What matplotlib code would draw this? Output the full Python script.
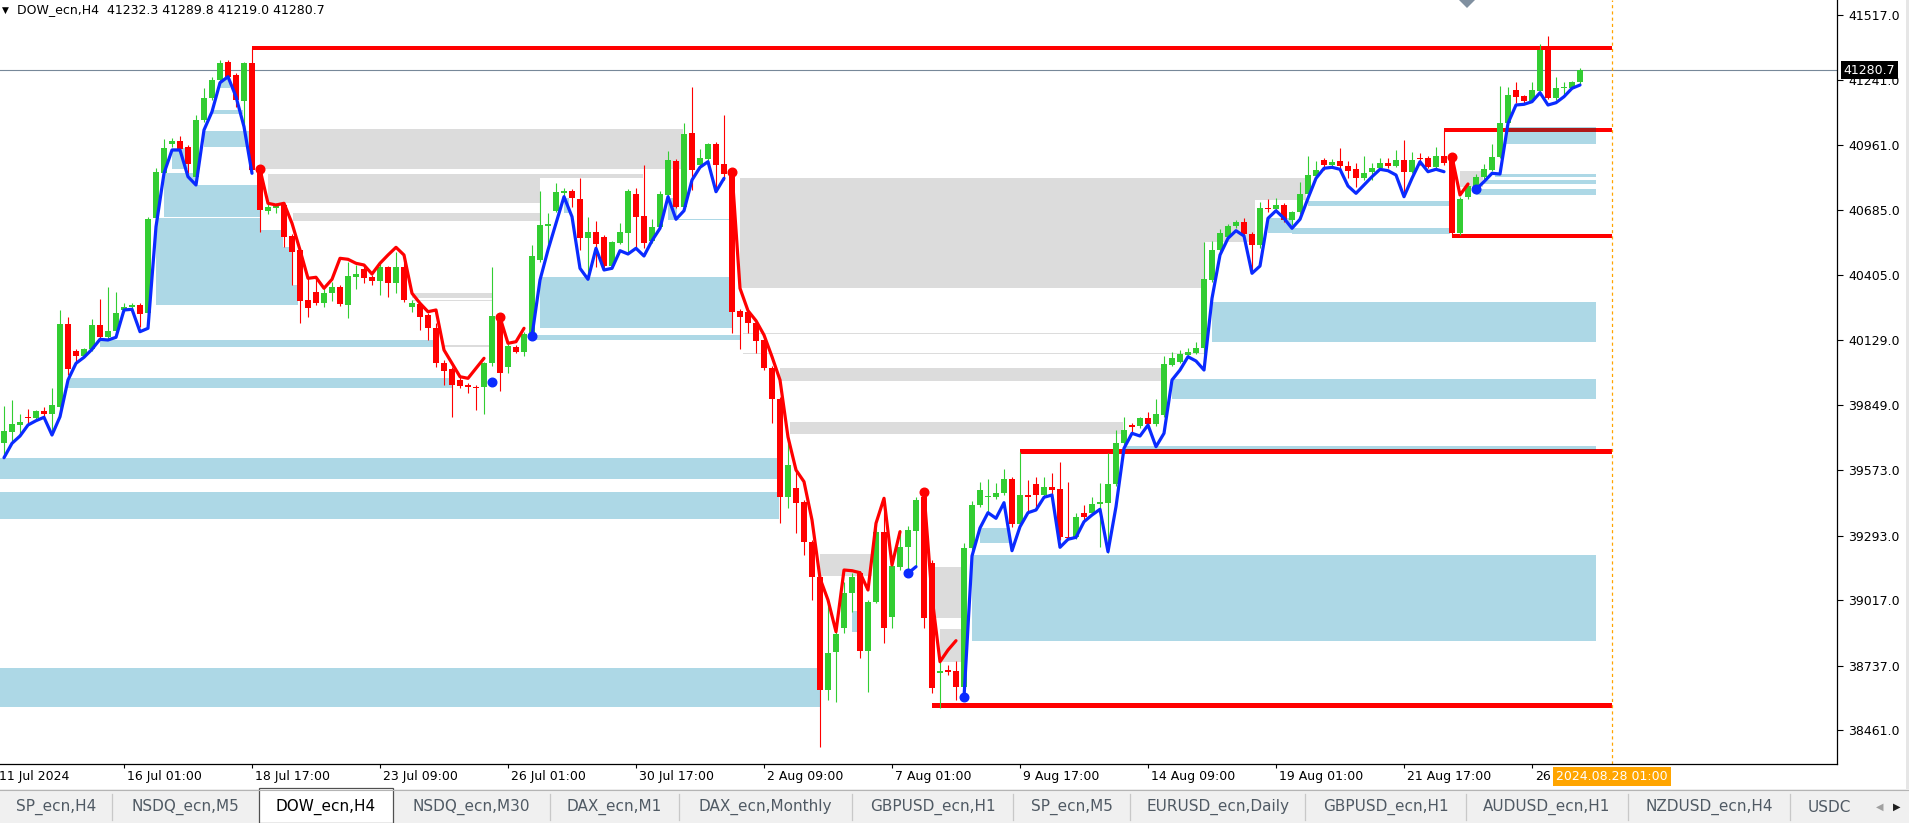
import matplotlib
matplotlib.use('Agg')
import matplotlib.pyplot as plt
from matplotlib.patches import Rectangle, Polygon
import matplotlib.transforms as mtransforms
import numpy as np

# ---------------- DATA (DOW_ecn, H4) ----------------
open_ = [
39689.7, 39736.7, 39766.6, 39799.5, 39796.5, 39825.1, 39813.6, 39843.5, 40196.8, 40081.5,
40061.4, 40088.8, 40192.6, 40142.6, 40168.2, 40256.7, 40268.2, 40278.0, 40242.6, 40649.7,
40843.3, 40964.6, 40978.7, 40953.1, 40826.2, 41068.4, 41161.1, 41239.3, 41316.2, 41260.7,
41150.9, 41313.2, 40854.8, 40680.9, 40691.2, 40705.3, 40572.8, 40513.0, 40299.4, 40333.6,
40287.9, 40328.0, 40353.6, 40278.0, 40398.9, 40430.5, 40398.9, 40381.8, 40439.1, 40373.3,
40441.7, 40268.2, 40282.3, 40235.3, 40178.5, 40031.5, 40003.3, 39957.6, 39936.2, 39927.7,
39929.0, 40028.9, 40231.0, 40011.9, 40099.9, 40078.5, 40149.8, 40470.3, 40616.8, 40680.9,
40757.8, 40765.1, 40730.9, 40565.5, 40588.6, 40567.3, 40445.9, 40544.2, 40586.9, 40752.3,
40658.3, 40551.5, 40612.5, 40748.0, 40893.2, 40698.0, 41014.2, 40876.2, 40900.5, 40965.9,
40880.4, 40847.5, 40252.4, 40249.4, 40201.1, 40126.4, 40007.6, 39875.1, 39459.0, 39494.9,
39437.6, 39264.2, 39117.2, 38633.1, 38794.2, 38896.8, 39046.3, 39134.3, 38801.0, 39010.4,
39306.9, 38943.8, 39159.9, 39245.4, 39313.7, 39459.0, 39174.5, 38704.5, 38718.6, 38715.6,
38647.2, 39238.5, 39423.5, 39456.4, 39456.4, 39473.5, 39534.6, 39342.4, 39466.3, 39513.3,
39466.3, 39501.7, 39490.6, 39285.5, 39285.5, 39388.1, 39388.1, 39427.8, 39433.4, 39513.3,
39687.2, 39765.3, 39761.1, 39793.9, 39769.6, 39808.1, 40021.7, 40034.5, 40065.7, 40074.2,
40093.0, 40384.8, 40513.0, 40567.3, 40615.5, 40631.4, 40581.4, 40534.4, 40691.2, 40688.2,
40705.3, 40641.2, 40674.1, 40752.3, 40830.4, 40897.5, 40876.2, 40893.2, 40871.9, 40857.8,
40819.3, 40847.5, 40862.1, 40883.4, 40873.2, 40897.5, 40847.5, 40907.3, 40904.8, 40868.9,
40914.6, 40911.6, 40584.4, 40738.2, 40786.4, 40823.6, 40854.8, 40911.6, 41054.3, 41196.6,
41170.9, 41150.9, 41193.6, 41367.5, 41161.1, 41203.8, 41203.8, 41232.3]

high_ = [
39846.5, 39872.1, 39812.3, 39833.7, 39829.4, 39842.2, 39923.4, 40256.7, 40226.7, 40090.0,
40095.6, 40218.2, 40302.4, 40353.6, 40332.3, 40287.9, 40287.9, 40286.6, 40654.0, 40863.3,
40987.2, 40992.8, 41000.1, 40961.6, 41089.8, 41203.8, 41252.1, 41324.8, 41324.8, 41270.5,
41316.2, 41376.0, 40863.3, 40713.8, 40713.8, 40713.8, 40581.4, 40521.5, 40393.4, 40393.4,
40356.2, 40375.0, 40363.5, 40463.0, 40448.9, 40448.9, 40406.2, 40456.2, 40444.6, 40505.7,
40470.3, 40299.4, 40286.6, 40243.8, 40199.8, 40043.0, 40013.1, 39971.7, 39944.8, 39936.2,
40035.8, 40439.1, 40239.6, 40111.4, 40107.1, 40162.7, 40534.4, 40766.4, 40669.8, 40798.0,
40777.9, 40773.6, 40819.3, 40655.3, 40636.9, 40577.1, 40551.5, 40627.1, 40772.3, 40776.6,
40876.2, 40644.2, 40765.1, 40936.0, 40901.8, 41056.9, 41208.1, 40944.5, 40971.4, 40974.4,
41089.8, 40854.8, 40260.9, 40256.7, 40209.7, 40132.8, 40017.4, 39885.0, 39701.2, 39587.2,
39444.9, 39274.0, 39124.5, 39000.6, 38898.0, 39095.8, 39131.7, 39141.6, 39017.7, 39342.4,
39459.0, 39180.0, 39316.7, 39333.8, 39456.4, 39477.8, 39188.6, 38752.8, 38740.0, 38757.0,
39259.9, 39440.6, 39523.1, 39533.3, 39516.3, 39576.1, 39543.2, 39651.3, 39530.3, 39541.9,
39544.5, 39559.0, 39606.0, 39523.1, 39388.1, 39423.5, 39459.0, 39518.8, 39644.4, 39744.0,
39798.2, 39775.2, 39798.2, 39822.2, 39876.4, 40060.1, 40078.5, 40085.8, 40095.6, 40121.2,
40548.5, 40552.7, 40602.7, 40624.1, 40641.2, 40648.4, 40589.9, 40719.4, 40729.6, 40733.9,
40715.1, 40679.6, 40804.8, 40914.6, 40894.5, 40906.1, 40900.5, 40948.8, 40893.2, 40886.0,
40914.6, 40883.4, 40904.8, 40904.8, 40940.2, 40983.0, 40933.0, 40928.7, 40914.6, 40954.3,
41025.7, 40918.9, 40739.4, 40795.0, 40837.7, 40880.4, 40965.9, 41213.7, 41210.7, 41232.0,
41175.2, 41232.0, 41393.1, 41427.3, 41250.8, 41232.0, 41236.3, 41289.8]

low_ = [
39637.2, 39692.7, 39731.2, 39775.2, 39791.0, 39799.5, 39736.7, 39829.4, 39978.9, 40035.8,
40055.9, 40081.5, 40128.5, 40128.5, 40154.1, 40248.1, 40260.9, 40185.3, 40231.0, 40632.6,
40833.4, 40953.1, 40927.4, 40840.7, 40820.6, 41059.9, 41153.9, 41230.8, 41239.3, 41125.2,
41025.7, 40846.2, 40591.2, 40666.8, 40671.1, 40527.1, 40363.5, 40199.8, 40225.5, 40278.0,
40270.8, 40296.4, 40273.7, 40222.5, 40346.4, 40370.7, 40363.5, 40320.7, 40310.9, 40328.0,
40292.1, 40249.4, 40171.2, 40128.5, 40014.4, 39936.2, 39800.8, 39923.4, 39902.0, 39829.4,
39812.3, 40017.4, 39911.9, 39988.8, 40072.9, 40060.1, 40137.0, 40461.7, 40521.5, 40675.4,
40740.7, 40698.0, 40513.0, 40398.9, 40441.7, 40436.1, 40440.4, 40538.6, 40501.5, 40527.1,
40521.5, 40542.9, 40607.0, 40739.4, 40692.4, 40692.4, 40769.3, 40867.6, 40893.2, 40762.1,
40812.1, 40158.4, 40090.0, 40158.4, 40071.7, 40000.3, 39775.2, 39347.9, 39410.7, 39302.6,
39209.9, 39017.7, 38390.9, 38590.4, 38583.2, 38875.4, 38967.7, 38768.6, 38625.9, 39004.9,
38835.2, 38896.8, 39145.8, 39145.8, 39159.9, 38896.8, 38620.3, 38554.9, 38697.2, 38590.4,
38633.1, 39231.3, 39415.0, 39388.1, 39449.2, 39466.3, 39330.8, 39333.8, 39388.1, 39416.3,
39457.7, 39466.3, 39274.0, 39274.0, 39278.3, 39359.5, 39380.8, 39245.4, 39217.2, 39504.7,
39679.9, 39736.7, 39752.5, 39761.1, 39761.1, 39799.5, 40017.4, 40030.2, 40060.1, 40068.7,
40000.3, 40376.3, 40504.5, 40560.0, 40607.0, 40572.8, 40420.3, 40521.5, 40675.4, 40675.4,
40632.6, 40619.8, 40666.8, 40743.7, 40824.9, 40854.8, 40867.6, 40854.8, 40819.3, 40783.4,
40812.1, 40812.1, 40854.8, 40862.1, 40867.6, 40740.7, 40842.0, 40876.2, 40863.3, 40863.3,
40876.2, 40572.8, 40577.1, 40730.9, 40777.9, 40816.3, 40850.5, 40906.1, 41047.0, 41139.8,
41139.8, 41145.3, 41188.0, 41158.1, 41153.9, 41175.2, 41200.9, 41219.0]

close_ = [
39739.7, 39769.6, 39778.1, 39795.2, 39825.1, 39813.6, 39850.8, 40196.8, 40004.6, 40061.4,
40090.0, 40192.6, 40142.6, 40166.9, 40243.8, 40269.5, 40279.3, 40239.6, 40644.2, 40847.5,
40948.8, 40978.7, 40943.2, 40879.2, 41068.4, 41161.1, 41239.3, 41313.2, 41250.8, 41153.9,
41313.2, 40854.8, 40683.9, 40698.0, 40701.0, 40569.8, 40505.7, 40296.4, 40265.2, 40287.9,
40328.0, 40356.2, 40282.3, 40401.9, 40409.2, 40392.1, 40381.8, 40439.1, 40373.3, 40441.7,
40299.4, 40286.6, 40228.0, 40178.5, 40031.5, 39997.3, 39936.2, 39932.0, 39926.4, 39923.4,
40031.5, 40231.0, 39988.8, 40104.1, 40078.5, 40154.1, 40487.4, 40619.8, 40624.1, 40759.5,
40765.1, 40733.9, 40565.5, 40588.6, 40538.6, 40445.9, 40545.9, 40588.6, 40765.1, 40655.3,
40544.2, 40610.0, 40752.3, 40897.5, 40698.0, 41008.6, 40854.8, 40904.8, 40965.9, 40876.2,
40837.7, 40249.4, 40225.5, 40201.1, 40125.5, 40007.6, 39875.1, 39456.4, 39594.4, 39433.4,
39264.2, 39114.6, 38633.1, 38789.9, 38871.2, 39046.3, 39114.6, 38801.0, 39010.4, 39306.9,
38896.8, 39164.2, 39245.4, 39316.7, 39444.9, 38939.5, 38640.4, 38715.6, 38711.3, 38647.2,
39238.5, 39423.5, 39487.6, 39462.0, 39476.1, 39534.6, 39342.4, 39466.3, 39459.0, 39466.3,
39501.7, 39487.6, 39285.5, 39282.5, 39371.0, 39373.6, 39427.8, 39437.6, 39513.3, 39687.2,
39744.0, 39758.1, 39793.9, 39769.6, 39812.3, 40025.9, 40050.3, 40067.4, 40077.2, 40093.0,
40387.8, 40513.0, 40584.4, 40615.5, 40633.9, 40581.4, 40534.4, 40691.2, 40686.9, 40705.3,
40641.2, 40674.1, 40752.3, 40833.4, 40854.8, 40876.2, 40890.3, 40873.2, 40851.8, 40819.3,
40840.7, 40862.1, 40883.4, 40873.2, 40897.5, 40847.5, 40897.5, 40900.5, 40868.9, 40914.6,
40883.4, 40584.4, 40730.9, 40786.4, 40826.2, 40859.1, 40911.6, 41056.9, 41175.2, 41165.4,
41150.9, 41196.6, 41367.5, 41163.7, 41203.8, 41210.7, 41232.0, 41280.7]

# trend indicator line (blue = up, red = down)
trend = [
39625.6, 39687.1, 39718.3, 39765.3, 39783.7, 39798.2, 39722.6, 39800.8, 39957.6, 40028.9,
40054.6, 40088.8, 40131.5, 40128.5, 40140.0, 40256.7, 40259.6, 40164.0, 40178.5, 40612.5,
40840.7, 40940.2, 40940.2, 40826.2, 40790.7, 41025.7, 41103.9, 41227.8, 41253.4, 41168.0,
41039.8, 40840.7, 40857.8, 40712.5, 40705.3, 40712.5, 40627.1, 40513.0, 40392.1, 40396.4,
40349.4, 40387.8, 40477.5, 40473.3, 40456.2, 40448.9, 40410.5, 40456.2, 40491.6, 40524.5,
40491.6, 40328.0, 40285.3, 40249.4, 40256.7, 40085.8, 40028.9, 39971.7, 39964.8, 40007.6,
40050.3, 39950.3, 40225.5, 40114.4, 40121.2, 40178.5, 40146.9, 40384.8, 40513.0, 40627.1,
40740.7, 40655.3, 40434.8, 40387.8, 40520.3, 40427.6, 40434.8, 40510.0, 40495.9, 40520.3,
40487.4, 40552.7, 40605.7, 40740.7, 40644.2, 40680.9, 40812.1, 40866.3, 40890.3, 40762.1,
40819.3, 40847.5, 40349.4, 40253.7, 40210.9, 40149.8, 40057.1, 39957.6, 39714.1, 39573.1,
39523.1, 39359.5, 39110.3, 39017.7, 38882.2, 39145.8, 39142.8, 39134.3, 39060.4, 39345.4,
39452.2, 39167.2, 39309.5, 39131.7, 39159.9, 39477.8, 39030.5, 38754.1, 38804.0, 38843.8,
38601.9, 39205.6, 39325.3, 39390.7, 39366.7, 39433.4, 39228.3, 39330.8, 39390.7, 39402.2,
39456.4, 39466.3, 39242.8, 39277.0, 39285.5, 39352.2, 39380.8, 39405.2, 39224.0, 39416.3,
39665.8, 39729.9, 39718.3, 39765.3, 39672.6, 39729.9, 39957.6, 40000.3, 40057.1, 40038.8,
40000.3, 40306.6, 40491.6, 40563.0, 40595.5, 40572.8, 40413.4, 40444.6, 40648.4, 40680.9,
40648.4, 40605.7, 40644.2, 40733.9, 40819.3, 40862.1, 40866.3, 40857.8, 40786.4, 40755.2,
40790.7, 40826.2, 40857.8, 40851.8, 40833.4, 40740.7, 40819.3, 40890.3, 40847.5, 40857.8,
40847.5, 40911.6, 40748.0, 40795.0, 40772.3, 40804.8, 40840.7, 40837.7, 41054.3, 41132.5,
41135.5, 41146.6, 41185.0, 41132.5, 41142.3, 41168.0, 41203.8, 41217.9]

seg_start = [0, 32, 61, 62, 66, 91, 113, 115, 120, 181, 184]
seg_end = [31, 60, 61, 65, 90, 112, 114, 119, 180, 183, 197]
seg_dir = ['up', 'down', 'up', 'down', 'up', 'down', 'up', 'down', 'up', 'down', 'up']

# supply/demand zones: kind, from bar, to bar, top price, bottom price
zone_kind = ['b'] * 35 + ['g'] * 18
zone_from = [-0.5, -0.5, -0.5, 8, 12, 19, 32, 34.9, 36.1, 20, 24.1, 21, 25, 26.1, 27,
             67, 66, 70, 83, 84.1, 106, 122, 121, 151, 146, 140, 153, 158, 161, 163,
             184, 185, 186.4, 187.8, 187.8,
             32, 33, 33, 36.1, 51, 51, 55, 92, 92, 92, 92.4, 92.4, 97, 98.25, 102, 116, 117, 182]
zone_to = [102, 96.75, 96.9, 56, 53.6, 32, 34.9, 36.1, 36.75, 24.1, 32, 23, 30.75, 29.9, 28.25,
           91, 92, 70.6, 84.1, 90.75, 106.75, 125.75, 199, 199, 199, 199, 155.75, 161, 180.75, 180.75,
           199, 199, 199, 199, 199,
           84.9, 79.9, 67, 67, 61, 61, 61, 162.8, 156.4, 150.1, 150, 150, 144.7, 139.9, 108.5, 119.75, 119.75, 184.9]
zone_hi = [38728.5, 39625.6, 39480.4, 39964.8, 40128.5, 40648.4, 40598.5, 40527.1, 40363.5, 40840.7,
           40790.7, 40948.8, 41022.7, 41111.1, 41247.9,
           40398.9, 40149.8, 40735.2, 40735.2, 40645.5, 38970.7, 39326.6, 39209.9, 40290.8, 39961.8,
           39675.6, 40564.3, 40649.7, 40607.0, 40722.4, 40773.6, 40812.1, 40837.7, 41037.2, 41037.2,
           41030.0, 40837.7, 40821.9, 40672.4, 40328.0, 40298.5, 40107.1, 40821.9, 40726.6, 40548.5,
           40159.0, 40073.7, 40007.6, 39779.4, 39214.2, 39159.9, 38893.8, 40851.8]
zone_lo = [38561.8, 39534.6, 39363.7, 39924.7, 40097.3, 40278.0, 40278.0, 40278.0, 40278.0, 40655.3,
           40655.3, 40859.0, 40954.4, 41092.8, 41206.4,
           40178.5, 40128.5, 40671.1, 40641.2, 40641.2, 38882.2, 39262.5, 38843.8, 40121.2, 39877.7,
           39658.5, 40548.5, 40585.6, 40582.6, 40702.4, 40748.0, 40795.0, 40826.2, 40965.9, 40965.9,
           40859.1, 40821.9, 40715.1, 40638.2, 40306.6, 40295.0, 40097.3, 40726.6, 40548.5, 40351.9,
           40155.0, 40069.7, 39953.3, 39726.9, 39120.2, 38939.5, 38754.1, 40783.4]

# horizontal red levels
level_from = [31, 180, 181, 127, 116]
level_price = [41376.0, 41025.7, 40572.8, 39651.3, 38566.1]
level_to = 201  # the orange time marker bar

ytick_vals = [41517.0, 41241.0, 40961.0, 40685.0, 40405.0, 40129.0, 39849.0,
              39573.0, 39293.0, 39017.0, 38737.0, 38461.0]
time_bars = [-1, 15, 31, 47, 63, 79, 95, 111, 127, 143, 159, 175, 191]
time_labels = ['11 Jul 2024', '16 Jul 01:00', '18 Jul 17:00', '23 Jul 09:00', '26 Jul 01:00',
               '30 Jul 17:00', '2 Aug 09:00', '7 Aug 01:00', '9 Aug 17:00', '14 Aug 09:00',
               '19 Aug 01:00', '21 Aug 17:00', '26']
marker_time = '2024.08.28 01:00'
last_price = 41280.7
title = 'DOW_ecn,H4  41232.3 41289.8 41219.0 41280.7'
tabs = ['SP_ecn,H4', 'NSDQ_ecn,M5', 'DOW_ecn,H4', 'NSDQ_ecn,M30', 'DAX_ecn,M1', 'DAX_ecn,Monthly',
        'GBPUSD_ecn,H1', 'SP_ecn,M5', 'EURUSD_ecn,Daily', 'GBPUSD_ecn,H1', 'AUDUSD_ecn,H1',
        'NZDUSD_ecn,H4', 'USDC']

# ---------------- STYLE ----------------
GREEN = '#32CD32'
RED = '#FF0000'
BLUE_LINE = '#0A2BFF'
ZONE_BLUE = '#ADD8E6'
ZONE_GREY = '#DCDCDC'
OVERLAP = '#B01818'

W, H = 1909, 823
fig = plt.figure(figsize=(W / 100, H / 100), dpi=100)
fig.patch.set_facecolor('white')
ax = fig.add_axes([0, 59 / H, 1837 / W, 764 / H])
ax.set_xlim(-0.5, 229.125)
ax.set_ylim(38317.0, 41581.1)
ax.set_facecolor('white')

n = len(close_)
x = np.arange(n)
o = np.array(open_); h = np.array(high_); l = np.array(low_); c = np.array(close_)

# zones
for k, x0, x1, hi, lo in zip(zone_kind, zone_from, zone_to, zone_hi, zone_lo):
    ax.add_patch(Rectangle((x0, lo), x1 - x0, hi - lo,
                           facecolor=ZONE_BLUE if k == 'b' else ZONE_GREY,
                           edgecolor='none', zorder=1))

# levels
px = (41581.1 - 38317.0) / 764.0
half = 2.3 * px
for xs, p in zip(level_from, level_price):
    ax.add_patch(Rectangle((xs, p - half), level_to - xs, 2 * half, facecolor=RED,
                           edgecolor='none', zorder=2))
    for k, x0, x1, hi, lo in zip(zone_kind, zone_from, zone_to, zone_hi, zone_lo):
        if k != 'b':
            continue
        xa, xb = max(xs, x0), min(level_to, x1)
        ya, yb = max(p - half, lo), min(p + half, hi)
        if xb > xa and yb > ya:
            ax.add_patch(Rectangle((xa, ya), xb - xa, yb - ya, facecolor=OVERLAP,
                                   edgecolor='none', zorder=2.1))

# current price line and time marker
ax.axhline(last_price, color='#778899', lw=0.8, zorder=2.5)
ax.axvline(level_to, color='#FFA500', lw=0.9, ls=(0, (2.5, 2.5)), zorder=2.5)

# candles
up = c >= o
cols = np.where(up, GREEN, RED)
ax.vlines(x, l, h, colors=cols, lw=0.8, zorder=3)
body_lo = np.minimum(o, c)
body_h = np.maximum(np.abs(c - o), 1.0 * px)
ax.bar(x, body_h, bottom=body_lo, width=0.72, color=cols, linewidth=0, zorder=3.2)

# trend line segments
tr = np.array(trend)
for i, (s, e, d) in enumerate(zip(seg_start, seg_end, seg_dir)):
    col = BLUE_LINE if d == 'up' else RED
    ax.plot(x[s:e + 1], tr[s:e + 1], color=col, lw=2.3, solid_joinstyle='round',
            solid_capstyle='round', zorder=5)
    if i > 0:
        ax.plot(x[s], tr[s], 'o', ms=6.2, color=col, mec=col, zorder=6)

# axes styling
for sp in ['top', 'left']:
    ax.spines[sp].set_visible(False)
for sp in ['right', 'bottom']:
    ax.spines[sp].set_color('black')
    ax.spines[sp].set_linewidth(0.9)
ax.yaxis.tick_right()
ax.set_yticks(ytick_vals)
ax.set_yticklabels(['%.1f' % v for v in ytick_vals])
ax.tick_params(axis='y', direction='out', length=4, width=0.8, pad=4, labelsize=9,
               colors='black')
ax.set_xticks([b for b in time_bars if b >= 0])
ax.tick_params(axis='x', direction='out', length=3, width=0.8, labelbottom=False)

tr_x = mtransforms.blended_transform_factory(ax.transData, ax.transAxes)
for b, lab in zip(time_bars, time_labels):
    ax.text(b + 0.35, -0.0165, lab, transform=tr_x, ha='left', va='center', fontsize=9,
            color='black', clip_on=False, zorder=7)
ax.text(level_to, -0.0165, marker_time, transform=tr_x, ha='center', va='center', fontsize=9,
        color='white', clip_on=False, zorder=8,
        bbox=dict(boxstyle='square,pad=0.25', fc='#FFA500', ec='none'))

tr_y = mtransforms.blended_transform_factory(ax.transAxes, ax.transData)
ax.text(1.0035, last_price, '%.1f' % last_price, transform=tr_y, ha='left', va='center',
        fontsize=9, color='white', clip_on=False, zorder=8,
        bbox=dict(boxstyle='square,pad=0.2', fc='black', ec='none'))

# ---------------- window chrome (pixel overlay) ----------------
ov = fig.add_axes([0, 0, 1, 1], zorder=10)
ov.set_xlim(0, W)
ov.set_ylim(H, 0)
ov.axis('off')
ov.patch.set_alpha(0)

ov.text(2, 10, '\u25BC', fontsize=6.5, ha='left', va='center', color='black')
ov.text(17, 10, title, fontsize=9, ha='left', va='center', color='black')
ov.add_patch(Polygon([[1459, 0], [1475, 0], [1467, 8]], closed=True, fc='#8090A0', ec='none'))

# tab bar
ov.add_patch(Rectangle((0, 789), W, 34, fc='#F0F0F0', ec='none'))
ov.plot([0, W], [789.5, 789.5], color='#B4B4B4', lw=0.8)
tab_left = [0, 112, 259, 393, 550, 679, 852, 1013, 1130, 1305, 1466, 1628, 1790]
tab_right = [112, 259, 393, 550, 679, 852, 1013, 1130, 1305, 1466, 1628, 1790, 1870]
active = 2
for i, (t, a, b) in enumerate(zip(tabs, tab_left, tab_right)):
    if i == active:
        ov.add_patch(Rectangle((a, 788), b - a, 35, fc='white', ec='#505050', lw=0.9))
        ov.text((a + b) / 2, 807, t, fontsize=11, ha='center', va='center', color='black')
    else:
        if t == 'USDC':
            ov.text(a + 18, 807, t, fontsize=11, ha='left', va='center', color='#505A64')
        else:
            ov.text((a + b) / 2, 807, t, fontsize=11, ha='center', va='center', color='#505A64')
        if i + 1 != active and i != active - 1 and b < 1850:
            ov.plot([b, b], [794, 820], color='#C8C8C8', lw=0.9)
ov.add_patch(Rectangle((1866, 790), 43, 33, fc='#F0F0F0', ec='none'))
ov.text(1880, 807, '\u25C0', fontsize=7, ha='center', va='center', color='#A0A0A0')
ov.text(1897, 807, '\u25B6', fontsize=7, ha='center', va='center', color='#202020')
ov.add_patch(Rectangle((1906, 0), 3, 789, fc='#E6E6E6', ec='none'))

fig.savefig('out.png', dpi=100, facecolor='white')
